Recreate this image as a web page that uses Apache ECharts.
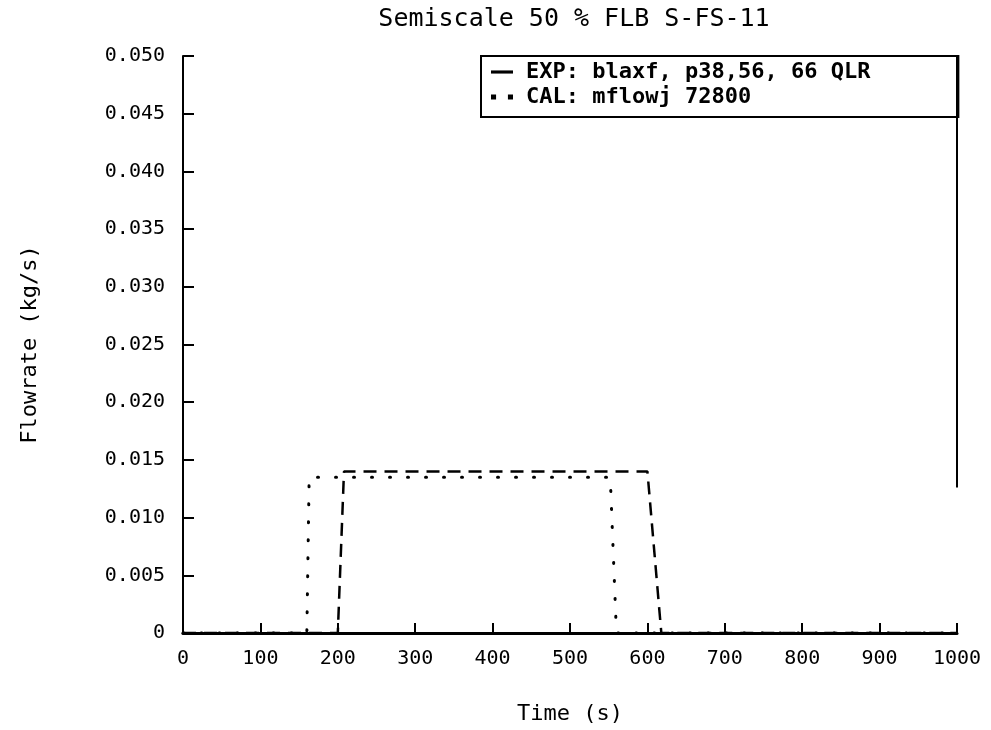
<!DOCTYPE html>
<html>
<head>
<meta charset="utf-8">
<script src="https://cdn.jsdelivr.net/npm/echarts@6/dist/echarts.min.js"></script>
<style>
  html, body { margin: 0; padding: 0; background: #fff; }
  #chart { width: 991px; height: 730px; }
</style>
</head>
<body>
<div id="chart"></div>
<script>
const expTime = [0, 200, 208, 600, 618, 1000]
const expFlow = [0, 0, 0.0140, 0.0140, 0, 0]
const calTime = [0, 160, 163, 552, 560, 1000]
const calFlow = [0, 0, 0.0135, 0.0135, 0, 0]
const yTickLabels = ['0', '0.005', '0.010', '0.015', '0.020', '0.025', '0.030', '0.035', '0.040', '0.045', '0.050']

const font = 'DejaVu Sans Mono'
const chart = echarts.init(document.getElementById('chart'))

chart.setOption({
    animation: false,
    backgroundColor: '#fff',
    title: {
        text: 'Semiscale 50 % FLB S-FS-11',
        left: 569,
        top: 2,
        textAlign: 'center',
        textStyle: { fontFamily: font, fontSize: 25, fontWeight: 'normal', color: '#000' }
    },
    legend: {
        left: 481,
        top: 56,
        orient: 'vertical',
        padding: [5, 88, 9, 10],
        itemGap: 3,
        itemWidth: 22,
        itemHeight: 10,
        borderColor: '#000',
        borderWidth: 2,
        borderRadius: 0,
        backgroundColor: '#fff',
        textStyle: { fontFamily: font, fontSize: 22, fontWeight: 'bold', color: '#000', padding: [0, 0, 0, 8] },
        data: [
            { name: 'EXP: blaxf, p38,56, 66 QLR', icon: 'path://M4,4 L18,4 L18,6 L4,6 Z' },
            { name: 'CAL: mflowj 72800', icon: 'path://M1,4 L4,4 L4,7 L1,7 Z M11,4 L14,4 L14,7 L11,7 Z' }
        ]
    },
    grid: { left: 183, right: 34, top: 56, bottom: 94 },
    xAxis: [{
        type: 'value',
        min: 0,
        max: 1000,
        interval: 100,
        z: 5,
        name: 'Time (s)',
        nameLocation: 'middle',
        nameGap: 70,
        nameTextStyle: { fontFamily: font, fontSize: 22, color: '#000' },
        axisLine: { onZero: false, lineStyle: { color: '#000', width: 3 } },
        axisTick: { inside: true, length: 10, lineStyle: { color: '#000', width: 2 } },
        axisLabel: { fontFamily: font, fontSize: 20, color: '#000', margin: 16, formatter: (v) => String(v) },
        splitLine: { show: false }
    }, {
        type: 'value',
        position: 'top',
        min: 0,
        max: 1000,
        axisLine: { show: true, lineStyle: { color: '#000', width: 2 } },
        axisTick: { show: false },
        axisLabel: { show: false },
        splitLine: { show: false }
    }],
    yAxis: {
        type: 'value',
        min: 0,
        max: 0.05,
        interval: 0.005,
        name: 'Flowrate (kg/s)',
        nameLocation: 'middle',
        nameGap: 142,
        nameRotate: 90,
        nameTextStyle: { fontFamily: font, fontSize: 22, color: '#000' },
        axisLine: { show: true, lineStyle: { color: '#000', width: 2 } },
        axisTick: { inside: true, length: 11, lineStyle: { color: '#000', width: 2 } },
        axisLabel: {
            fontFamily: font, fontSize: 20, color: '#000', margin: 18,
            formatter: (v) => yTickLabels[Math.round(v / 0.005)]
        },
        splitLine: { show: false }
    },
    series: [{
        name: 'EXP: blaxf, p38,56, 66 QLR',
        type: 'line',
        data: expTime.map((t, i) => [t, expFlow[i]]),
        showSymbol: false,
        itemStyle: { color: '#000' },
        lineStyle: { color: '#000', width: 2.5, type: [13, 8] },
        markLine: {
            silent: true,
            symbol: 'none',
            label: { show: false },
            lineStyle: { color: '#000', width: 2, type: 'solid' },
            data: [[{ coord: [1000, 0.0126] }, { coord: [1000, 0.05] }]]
        }
    }, {
        name: 'CAL: mflowj 72800',
        type: 'line',
        data: calTime.map((t, i) => [t, calFlow[i]]),
        showSymbol: false,
        itemStyle: { color: '#000' },
        lineStyle: { color: '#000', width: 3, type: [1, 17], cap: 'round' }
    }]
})
</script>
</body>
</html>
